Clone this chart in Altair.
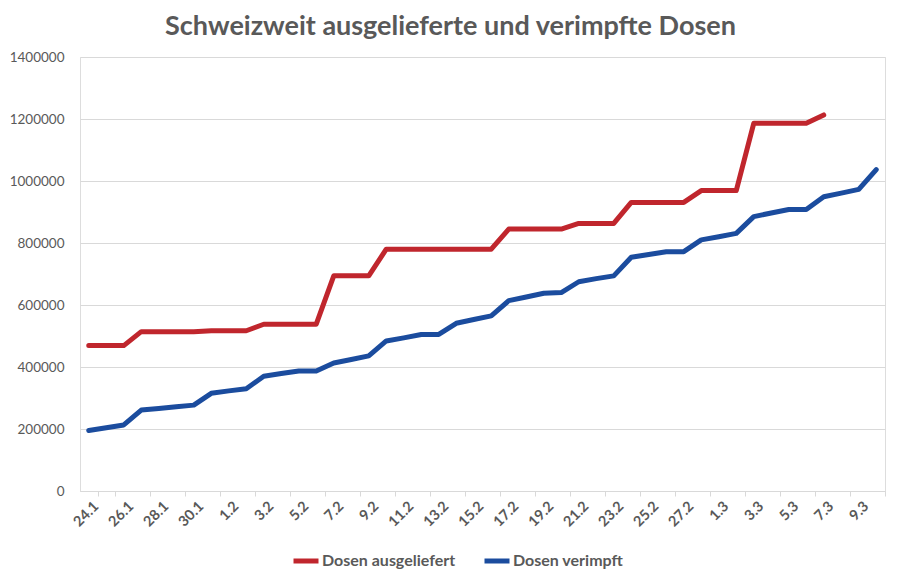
import altair as alt
import pandas as pd

dates = [
    "24.1", "25.1", "26.1", "27.1", "28.1", "29.1", "30.1", "31.1",
    "1.2", "2.2", "3.2", "4.2", "5.2", "6.2", "7.2", "8.2", "9.2", "10.2",
    "11.2", "12.2", "13.2", "14.2", "15.2", "16.2", "17.2", "18.2", "19.2",
    "20.2", "21.2", "22.2", "23.2", "24.2", "25.2", "26.2", "27.2", "28.2",
    "1.3", "2.3", "3.3", "4.3", "5.3", "6.3", "7.3", "8.3", "9.3", "10.3",
]

ausgeliefert = [
    469000, 469000, 469000, 514000, 514000, 514000, 514000, 517000,
    517000, 517000, 538000, 538000, 538000, 538000, 694000, 694000, 694000,
    780000, 780000, 780000, 780000, 780000, 780000, 780000, 845000, 845000,
    845000, 845000, 863000, 863000, 863000, 931000, 931000, 931000, 931000,
    969000, 969000, 969000, 1186000, 1186000, 1186000, 1186000, 1213000,
]

verimpft = [
    195000, 204000, 213000, 261000, 266000, 272000, 277000, 315000,
    323000, 330000, 370000, 379000, 387000, 387000, 413000, 424000, 436000,
    484000, 494000, 505000, 505000, 541000, 553000, 565000, 614000, 626000,
    638000, 640000, 675000, 685000, 694000, 754000, 763000, 772000, 772000,
    810000, 820000, 831000, 885000, 897000, 908000, 908000, 949000, 961000,
    973000, 1037000,
]

series_names = ["Dosen ausgeliefert", "Dosen verimpft"]
series_colors = ["#c0262d", "#1b4c9e"]
y_ticks = [0, 200000, 400000, 600000, 800000, 1000000, 1200000, 1400000]

rows = []
for d, v in zip(dates, ausgeliefert):
    rows.append({"Datum": d, "Dosen": v, "Serie": series_names[0]})
for d, v in zip(dates, verimpft):
    rows.append({"Datum": d, "Dosen": v, "Serie": series_names[1]})
df = pd.DataFrame(rows)

GRAY = "#595959"
FONT = "Lato"

# ticks fall on band edges between odd/even days; labels show the even days
odd_days = dates[1::2]
even_days = dates[0::2]
label_expr = (
    "[" + ",".join("'%s'" % d for d in even_days) + "]"
    "[indexof([" + ",".join("'%s'" % d for d in odd_days) + "], datum.value)]"
)

chart = (
    alt.Chart(df)
    .mark_line(strokeWidth=5, strokeJoin="round", strokeCap="round")
    .encode(
        x=alt.X(
            "Datum:N",
            sort=dates,
            bandPosition=0.5,
            scale=alt.Scale(type="band", paddingInner=0, paddingOuter=0),
            axis=alt.Axis(
                title=None,
                values=odd_days,
                labelExpr=label_expr,
                tickBand="extent",
                labelOffset=-15,
                labelAngle=-45,
                labelFont=FONT,
                labelFontSize=14.5,
                labelFontWeight="bold",
                labelColor=GRAY,
                labelPadding=3,
                domainColor="#d9d9d9",
                tickColor="#d9d9d9",
                tickSize=5,
                grid=False,
            ),
        ),
        y=alt.Y(
            "Dosen:Q",
            scale=alt.Scale(domain=[0, 1400000], nice=False),
            axis=alt.Axis(
                title=None,
                values=y_ticks,
                format="d",
                labelFont=FONT,
                labelFontSize=13.5,
                labelColor=GRAY,
                labelPadding=16,
                ticks=False,
                domain=False,
                gridColor="#d9d9d9",
                gridWidth=1,
            ),
        ),
        color=alt.Color(
            "Serie:N",
            sort=series_names,
            scale=alt.Scale(domain=series_names, range=series_colors),
            legend=alt.Legend(
                title=None,
                orient="none",
                direction="horizontal",
                legendX=211,
                legendY=489,
                symbolType="stroke",
                symbolStrokeWidth=5,
                symbolSize=625,
                labelFont=FONT,
                labelFontSize=16,
                labelFontWeight="bold",
                labelColor=GRAY,
                labelOffset=1,
                columnPadding=18,
            ),
        ),
    )
    .properties(
        width=805,
        height=434,
        autosize=alt.AutoSizeParams(type="none"),
        padding={"left": 72, "top": 49, "right": 7, "bottom": 78},
        title=alt.TitleParams(
            "Schweizweit ausgelieferte und verimpfte Dosen",
            font=FONT,
            fontSize=27,
            fontWeight="bold",
            color=GRAY,
            anchor="middle",
            frame="group",
            dx=-32,
            offset=9,
        ),
    )
    .configure_view(stroke=None)
    .configure(background="white")
)

chart.save("out.html", embed_options={"renderer": "svg", "actions": False})
